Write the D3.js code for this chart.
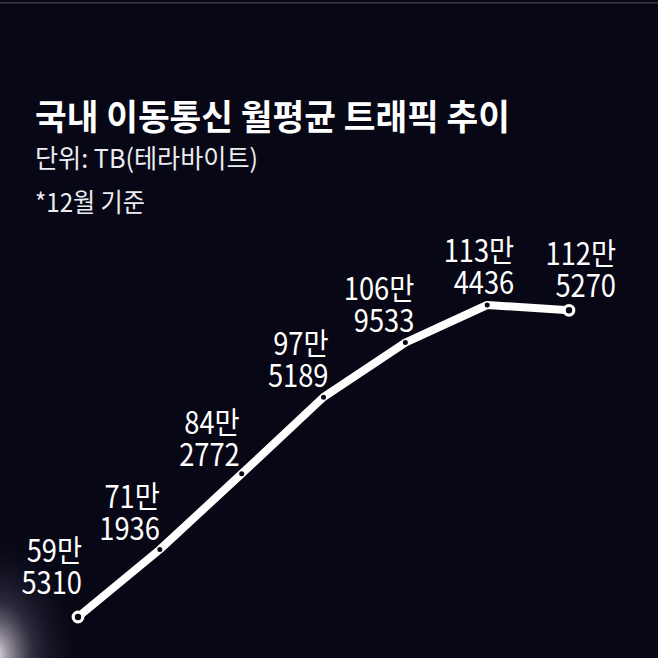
<!DOCTYPE html>
<html>
<head>
<meta charset="utf-8">
<script src="https://cdn.jsdelivr.net/npm/d3@7"></script>
<style>
  html, body { margin: 0; padding: 0; background: #070716; }
  svg { display: block; }
</style>
</head>
<body>
<div id="container"></div>
<script>
// monthly average mobile traffic, TB (December figures)
const values = [595310, 711936, 842772, 975189, 1069533, 1134436, 1125270];
const titleText = "국내 이동통신 월평균 트래픽 추이";
const unitText = "단위: TB(테라바이트)";
const noteText = "*12월 기준";

// label placement relative to each point: right edge dx, lower baseline dy
const labelDx = [4, 0, -2, 5, 9, 27, 47];
const labelDy = [-23, -10, -8, -10, -11, -11, -13];

const W = 658, H = 658;
const bg = "#070716";
const font = "'Noto Sans CJK KR', 'Noto Sans', sans-serif";

const svg = d3.select("#container").append("svg")
    .attr("width", W)
    .attr("height", H);

const defs = svg.append("defs");
const glow = defs.append("radialGradient")
    .attr("id", "glow")
    .attr("cx", 0.5).attr("cy", 0.5).attr("r", 0.5);
glow.append("stop").attr("offset", "0%").attr("stop-color", "#f6f2f6").attr("stop-opacity", 1);
glow.append("stop").attr("offset", "12%").attr("stop-color", "#d8d0da").attr("stop-opacity", 0.8);
glow.append("stop").attr("offset", "45%").attr("stop-color", "#6e667c").attr("stop-opacity", 0.35);
glow.append("stop").attr("offset", "100%").attr("stop-color", bg).attr("stop-opacity", 0);

svg.append("rect")
    .attr("width", W).attr("height", H)
    .attr("fill", bg);

// soft light in the lower left corner
svg.append("ellipse")
    .attr("cx", -6).attr("cy", 656)
    .attr("rx", 90).attr("ry", 125)
    .attr("fill", "url(#glow)");

// thin edge line at the top
svg.append("rect")
    .attr("x", 0).attr("y", 2)
    .attr("width", W).attr("height", 1.5)
    .attr("fill", "#3a3a44");

// titles
svg.append("text")
    .attr("x", 35).attr("y", 130)
    .attr("font-family", font)
    .attr("font-size", 35)
    .attr("font-weight", 700)
    .attr("fill", "#ffffff")
    .attr("textLength", 475)
    .attr("lengthAdjust", "spacingAndGlyphs")
    .text(titleText);

svg.append("text")
    .attr("x", 35).attr("y", 168)
    .attr("font-family", font)
    .attr("font-size", 26)
    .attr("fill", "#ececf0")
    .attr("textLength", 223)
    .attr("lengthAdjust", "spacingAndGlyphs")
    .text(unitText);

svg.append("text")
    .attr("x", 35).attr("y", 212)
    .attr("font-family", font)
    .attr("font-size", 26)
    .attr("fill", "#ececf0")
    .attr("textLength", 110)
    .attr("lengthAdjust", "spacingAndGlyphs")
    .text(noteText);

// scales
const x = d3.scalePoint()
    .domain(d3.range(values.length))
    .range([78, 569]);

const y = d3.scaleLinear()
    .domain(d3.extent(values))
    .range([617, 305]);

const line = d3.line()
    .x((d, i) => x(i))
    .y(d => y(d));

svg.append("path")
    .datum(values)
    .attr("d", line)
    .attr("fill", "none")
    .attr("stroke", "#ffffff")
    .attr("stroke-width", 8)
    .attr("stroke-linecap", "round")
    .attr("stroke-linejoin", "round");

const last = values.length - 1;

// inner dots on the line
svg.selectAll(".dot")
    .data(values.map((v, i) => i).filter(i => i > 0 && i < last))
    .enter()
    .append("circle")
    .attr("class", "dot")
    .attr("cx", i => x(i))
    .attr("cy", i => y(values[i]))
    .attr("r", 2.5)
    .attr("fill", bg);

// end rings
svg.selectAll(".end")
    .data([0, last])
    .enter()
    .append("circle")
    .attr("class", "end")
    .attr("cx", i => x(i))
    .attr("cy", i => y(values[i]))
    .attr("r", 4.8)
    .attr("fill", bg)
    .attr("stroke", "#ffffff")
    .attr("stroke-width", 3.2);

// value labels, two lines: "59만" / "5310"
const labels = svg.selectAll(".lbl")
    .data(values)
    .enter()
    .append("g")
    .attr("class", "lbl")
    .attr("transform", (d, i) =>
        "translate(" + (x(i) + labelDx[i]) + "," + (y(d) + labelDy[i]) + ") scale(0.88,1)")
    .append("text")
    .attr("text-anchor", "end")
    .attr("font-family", font)
    .attr("font-size", 31)
    .attr("fill", "#ffffff");

labels.append("tspan")
    .attr("x", 0).attr("y", -32)
    .text(d => Math.floor(d / 10000) + "만");

labels.append("tspan")
    .attr("x", 0).attr("y", 0)
    .text(d => String(d % 10000).padStart(4, "0"));
</script>
</body>
</html>
